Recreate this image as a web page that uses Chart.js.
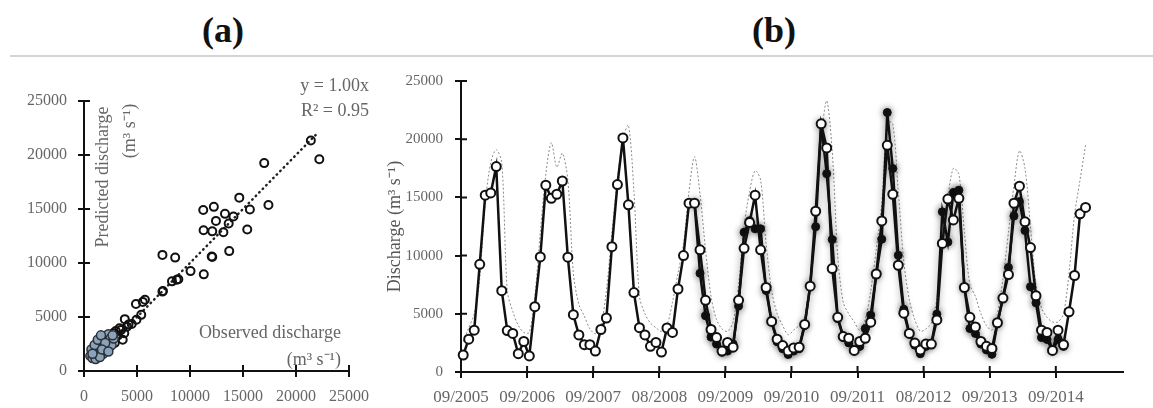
<!DOCTYPE html>
<html>
<head>
<meta charset="utf-8">
<script src="https://cdn.jsdelivr.net/npm/chart.js@4.4.0/dist/chart.umd.min.js"></script>
<style>
  body { margin: 0; background: #fff; width: 1153px; height: 408px; overflow: hidden; position: relative; font-family: "Liberation Serif", serif; }
  .panel { position: absolute; top: 30px; font-weight: bold; font-size: 36px; color: #111; transform: translate(-50%, -50%); }
  .rule { position: absolute; left: 10px; top: 55px; width: 1143px; height: 2px; background: #d4d4d4; }
  .note { position: absolute; color: #666; font-size: 18px; white-space: nowrap; }
  .rot { transform: translate(-50%, -50%) rotate(-90deg); }
  .right { transform: translate(-100%, -50%); }
  canvas { position: absolute; }
</style>
</head>
<body>
<div class="panel" style="left:223px">(a)</div>
<div class="panel" style="left:774px">(b)</div>
<div class="rule"></div>

<canvas id="scatterChart" width="380" height="348" style="left:0;top:60px"></canvas>
<canvas id="seriesChart" width="773" height="348" style="left:380px;top:60px"></canvas>

<div class="note rot" style="left:102px;top:177px">Predicted discharge</div>
<div class="note rot" style="left:128px;top:131px">(m³ s⁻¹)</div>
<div class="note right" style="left:341px;top:332px">Observed discharge</div>
<div class="note right" style="left:341px;top:358px">(m³ s⁻¹)</div>
<div class="note right" style="left:369px;top:85px">y = 1.00x</div>
<div class="note right" style="left:369px;top:110px">R² = 0.95</div>

<script>
// ---- (a) observed vs predicted ----
const obsX  = [21400, 22200, 17000, 17400, 14650, 15650, 15400, 14100, 13650, 13300, 13150, 13700,
               11250, 12250, 12450, 11280, 12100, 12050, 12100, 11300, 10050, 7400, 8600, 8900,
               8750, 8300, 7450, 7400, 5750, 5550, 4900, 5400, 4950, 3850, 4500, 4050,
               3350, 3650, 2750, 2600, 3000, 3200, 4200, 2900, 2400, 3500, 3800, 2200];
const predY = [21350, 19600, 19250, 15370, 16050, 14950, 13100, 14300, 13650, 14550, 12850, 11100,
               14900, 15200, 13900, 13030, 12930, 10600, 10550, 8950, 9250, 10750, 10500, 8500,
               8450, 8300, 7400, 7350, 6600, 6400, 6200, 5200, 4750, 4800, 4350, 4100,
               3950, 2900, 3500, 3200, 3700, 3300, 4300, 2600, 2300, 3800, 3500, 3300];
const lowX  = [600, 800, 900, 1000, 1100, 1200, 1300, 1400, 1500, 1600, 1700, 1800, 1900, 2000, 2100, 2200,
               2300, 2400, 2500, 700, 1000, 1300, 1600, 1900, 2600, 2800, 1100, 1500, 800, 2000, 1700, 2300, 2700];
const lowY  = [1400, 1200, 1700, 1500, 1900, 1300, 2300, 1700, 2600, 2100, 2900, 1600, 2400, 3200, 2800, 2100,
               3400, 2600, 3000, 2000, 2400, 2900, 3300, 1900, 2400, 3000, 1100, 1300, 1600, 2600, 2000, 1800, 3300];
const fitLine = [1000, 22000];
const axisTicksA = [0, 5000, 10000, 15000, 20000, 25000];

// ---- (b) monthly discharge ----
const tickLabels = ["09/2005", "09/2006", "09/2007", "08/2008", "09/2009",
                    "09/2010", "09/2011", "08/2012", "09/2013", "09/2014"];
const observed = [1460, 2820, 3590, 9250, 15190, 15380, 17650, 6990, 3560, 3310, 1570, 2620,
                  1380, 5610, 9890, 16050, 14920, 15270, 16410, 9860, 4920, 3180, 2350, 2350,
                  1800, 3650, 4640, 10770, 16100, 20110, 14360, 6820, 3810, 3180, 2210, 2540,
                  1710, 3780, 3400, 7130, 10000, 14500, 14500, 10500, 6160, 3650, 2960, 1800,
                  2540, 2130, 6160, 10630, 12840, 15190, 10500, 7260, 4340, 2820, 2270, 1800,
                  2070, 2130, 4090, 7370, 13810, 21320, 19250, 8890, 4700, 3040, 2900, 1850,
                  2620, 2900, 4280, 8420, 12980, 19470, 15270, 9170, 5050, 3310, 2490, 1880,
                  2400, 2400, 4470, 11050, 14860, 13060, 14920, 7260, 4700, 3870, 2620, 2210,
                  2020, 4230, 6350, 8370, 14500, 15960, 12900, 10690, 6550, 3590, 3400, 1850,
                  3590, 2350, 5170, 8290, 13590, 14140];
const simulatedStart = 42;
const simulated = [14500, 8480, 4830, 3000, 2400, 1700, 1800, 2400, 5660, 12000, 13000, 12300,
                   12300, 7000, 4300, 2600, 2000, 1500, 1800, 2000, 4000, 7400, 12480, 21300,
                   17040, 11380, 4600, 3000, 2500, 1800, 2200, 3730, 4890, 8400, 11410, 22290,
                   17480, 10030, 5390, 3300, 2300, 1570, 2200, 2400, 4970, 13760, 11160, 15430,
                   15620, 7260, 3730, 3310, 2400, 1900, 1520, 4200, 6350, 8980, 13400, 14640,
                   12150, 7320, 5940, 2960, 2800, 1850, 2800, 2200];
const modelled = [2600, 3800, 5000, 8000, 14500, 18000, 19100, 18000, 7000, 5200, 4000, 3400,
                  3400, 6500, 12000, 17000, 19700, 17600, 18800, 16500, 8500, 5800, 4800, 3700,
                  3300, 4000, 7000, 12000, 16500, 20000, 21200, 15500, 6500, 5000, 4200, 3800,
                  3500, 4000, 6000, 8500, 11000, 15500, 18500, 15300, 10500, 6500, 4500, 3700,
                  3500, 4300, 7500, 12500, 15500, 17300, 16500, 11000, 7000, 5000, 4000, 3200,
                  3600, 4000, 4700, 8000, 13000, 20000, 23300, 19000, 10000, 6000, 5000, 4300,
                  3600, 4500, 7000, 10500, 14500, 21500, 21300, 15500, 9500, 6200, 4500, 3500,
                  3700, 4200, 6300, 11000, 15000, 17500, 17000, 12000, 7500, 6500, 5000, 4000,
                  3600, 5000, 8000, 12000, 16000, 19000, 17500, 12500, 7500, 5500, 4700, 4300,
                  4300, 5000, 8500, 13500, 16500, 19500];

const ink = "#111";
const labelGrey = "#666";
const serif = "'Liberation Serif', serif";

// tick marks that cross the axis line
const crossTicks = {
  id: "crossTicks",
  afterDraw(chart) {
    const ctx = chart.ctx;
    const { x, y } = chart.scales;
    ctx.save();
    ctx.strokeStyle = ink;
    ctx.lineWidth = 2;
    ctx.beginPath();
    y.ticks.forEach((t, i) => {
      const py = y.getPixelForTick(i);
      ctx.moveTo(y.right, py);
      ctx.lineTo(y.right + 6, py);
    });
    x.ticks.forEach((t, i) => {
      const px = x.getPixelForTick(i);
      ctx.moveTo(px, x.top);
      ctx.lineTo(px, x.top - 6);
    });
    ctx.stroke();
    ctx.restore();
  }
};

// soft shadow around the marker series
const glow = {
  id: "glow",
  beforeDatasetDraw(chart, args) {
    const ds = chart.data.datasets[args.index];
    if (!ds.glow) return;
    chart.ctx.save();
    chart.ctx.shadowColor = "rgba(0,0,0,0.5)";
    chart.ctx.shadowBlur = ds.glow;
  },
  afterDatasetDraw(chart, args) {
    if (chart.data.datasets[args.index].glow) chart.ctx.restore();
  }
};

function axisBase(fontSize) {
  return {
    border: { display: true, color: ink, width: 2 },
    grid: { drawOnChartArea: false, drawTicks: true, tickLength: 6, color: ink, lineWidth: 2 },
    ticks: { color: labelGrey, font: { family: serif, size: fontSize } }
  };
}

// ---- chart (a) ----
const scatterCtx = document.getElementById("scatterChart").getContext("2d");
const ax = axisBase(16), ay = axisBase(16);

new Chart(scatterCtx, {
  type: "scatter",
  data: {
    datasets: [
      {
        data: lowX.map((v, i) => ({ x: v, y: lowY[i] })),
        pointRadius: 4.5,
        pointBackgroundColor: "#8aa3b9",
        pointBorderColor: "#2a2f35",
        pointBorderWidth: 1.5,
        clip: false
      },
      {
        data: obsX.map((v, i) => ({ x: v, y: predY[i] })),
        pointRadius: 4,
        pointBackgroundColor: "rgba(0,0,0,0)",
        pointBorderColor: ink,
        pointBorderWidth: 2,
        clip: false
      },
      {
        type: "line",
        data: fitLine.map(v => ({ x: v, y: v })),
        borderColor: "#222",
        borderWidth: 2.5,
        borderDash: [0.5, 4.5],
        borderCapStyle: "round",
        pointRadius: 0
      }
    ]
  },
  options: {
    responsive: false,
    animation: false,
    events: [],
    layout: { padding: { left: 0, right: 31, top: 41, bottom: 0 } },
    plugins: { legend: { display: false }, tooltip: { enabled: false } },
    scales: {
      x: {
        ...ax,
        type: "linear", min: 0, max: 25000,
        afterBuildTicks: s => { s.ticks = axisTicksA.map(v => ({ value: v })); },
        afterFit: s => { s.height = 37; },
        ticks: { ...ax.ticks, padding: 10, maxRotation: 0, callback: v => String(v) }
      },
      y: {
        ...ay,
        type: "linear", min: 0, max: 25000,
        afterBuildTicks: s => { s.ticks = axisTicksA.map(v => ({ value: v })); },
        afterFit: s => { s.width = 84; },
        ticks: { ...ay.ticks, padding: 11, callback: v => String(v) }
      }
    }
  },
  plugins: [crossTicks]
});

// ---- chart (b) ----
const seriesCtx = document.getElementById("seriesChart").getContext("2d");
const bx = axisBase(17), by = axisBase(15);

new Chart(seriesCtx, {
  type: "line",
  data: {
    datasets: [
      {
        data: observed.map((v, i) => ({ x: i, y: v })),
        borderColor: ink,
        borderWidth: 2.5,
        pointRadius: 4.5,
        pointBackgroundColor: "#fff",
        pointBorderColor: ink,
        pointBorderWidth: 2,
        clip: false
      },
      {
        data: simulated.map((v, i) => ({ x: simulatedStart + i, y: v })),
        borderColor: ink,
        borderWidth: 2.5,
        pointRadius: 4,
        pointBackgroundColor: ink,
        pointBorderColor: ink,
        pointBorderWidth: 1,
        glow: 7,
        clip: false
      },
      {
        data: modelled.map((v, i) => ({ x: i, y: v })),
        borderColor: "#8a8a8a",
        borderWidth: 1,
        borderDash: [2, 2],
        tension: 0.3,
        pointRadius: 0
      }
    ]
  },
  options: {
    responsive: false,
    animation: false,
    events: [],
    layout: { padding: { left: 0, right: 30, top: 9, bottom: 0 } },
    plugins: { legend: { display: false }, tooltip: { enabled: false } },
    scales: {
      x: {
        ...bx,
        type: "linear", min: -0.4, max: 119.8,
        afterBuildTicks: s => { s.ticks = tickLabels.map((_, k) => ({ value: k * 12 - 0.4 })); },
        afterFit: s => { s.height = 36; },
        ticks: { ...bx.ticks, padding: 9, maxRotation: 0, autoSkip: false, callback: (v, i) => tickLabels[i] }
      },
      y: {
        ...by,
        type: "linear", min: 0, max: 25000,
        afterBuildTicks: s => { s.ticks = axisTicksA.map(v => ({ value: v })); },
        afterFit: s => { s.width = 81; },
        ticks: { ...by.ticks, padding: 12, callback: v => String(v) },
        title: {
          display: true,
          text: "Discharge (m³ s⁻¹)",
          color: "#555",
          font: { family: serif, size: 18 },
          padding: { top: 4, bottom: 0 }
        }
      }
    }
  },
  plugins: [crossTicks, glow]
});
</script>
</body>
</html>
